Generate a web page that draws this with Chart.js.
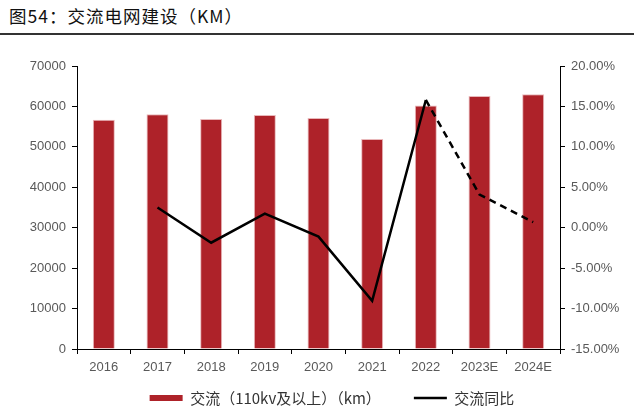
<!DOCTYPE html>
<html>
<head>
<meta charset="utf-8">
<script src="https://cdn.jsdelivr.net/npm/chart.js@4.4.0/dist/chart.umd.min.js"></script>
<style>
  html, body { margin: 0; padding: 0; background: #fff; }
  #wrap { position: relative; width: 634px; height: 409px; overflow: hidden; }
  #title {
    position: absolute; left: 9px; top: 3px;
    font-family: "Noto Sans CJK SC", sans-serif; font-size: 17.5px; color: #111;
    letter-spacing: 1px;
  }
  #rule { position: absolute; left: 0; top: 33px; width: 634px; height: 2px; background: #333; }
  #c { position: absolute; left: 0; top: 0; }
</style>
</head>
<body>
<div id="wrap">
  <div id="title">图54：交流电网建设（KM）</div>
  <div id="rule"></div>
  <canvas id="c" width="634" height="409"></canvas>
</div>
<script>
'use strict';

// données
var annees = ['2016', '2017', '2018', '2019', '2020', '2021', '2022', '2023E', '2024E'];
var longueurKm = [56700, 58050, 56900, 57900, 57150, 51950, 60200, 62600, 63000];
var croissance = [null, 2.5, -1.85, 1.75, -1.1, -9.05, 15.8, 4.1, 0.7];
var nomsSeries = ['交流（110kv及以上）（km）', '交流同比'];
var ticksGauche = [0, 70000, 10000];   // min, max, pas
var ticksDroite = [-15, 20, 5];

var rouge = '#ae2229';
var gris = '#595959';
var policeChiffres = '"Liberation Sans", Arial, sans-serif';
var policeChinois = '"Noto Sans CJK SC", sans-serif';
var ecartLegende = 33;

// remonte la légende : son espacement horizontal est grand, mais elle doit rester basse
var placeLegende = {
  id: 'placeLegende',
  afterLayout: function(chart) {
    var l = chart.legend;
    l.top = 398 - 7.5 - ecartLegende;
    l.bottom = chart.height;
    l.height = l.bottom - l.top;
  }
};

var data = {
  labels: annees,
  datasets: [{
    type: 'bar',
    label: nomsSeries[0],
    data: longueurKm,
    backgroundColor: rouge,
    borderColor: '#e9b8ba',
    borderWidth: 1,
    borderSkipped: 'bottom',
    categoryPercentage: 1,
    barPercentage: 0.41,
    yAxisID: 'y',
    order: 1
  }, {
    type: 'line',
    label: nomsSeries[1],
    data: croissance,
    borderColor: '#000',
    backgroundColor: '#000',
    borderWidth: 2.5,
    pointRadius: 0,
    tension: 0,
    spanGaps: false,
    yAxisID: 'y1',
    order: 0,
    segment: {
      // prévisions en pointillés
      borderDash: function(ctx) { return ctx.p0DataIndex >= 6 ? [7, 5] : undefined; }
    }
  }]
};

var options = {
  responsive: false,
  animation: false,
  layout: { padding: { top: 66, left: 30, right: 0, bottom: 0 } },
  plugins: {
    title: { display: false },
    tooltip: { enabled: false },
    legend: {
      position: 'bottom',
      maxHeight: 30,
      labels: {
        usePointStyle: true,
        pointStyleWidth: 33,
        boxHeight: 6,
        padding: ecartLegende,
        color: '#333',
        font: { family: policeChinois, size: 15 },
        generateLabels: function(chart) {
          return [
            { text: nomsSeries[0], fillStyle: rouge, strokeStyle: rouge, lineWidth: 0,
              pointStyle: 'rect', datasetIndex: 0, hidden: false, fontColor: '#333' },
            { text: nomsSeries[1], fillStyle: '#000', strokeStyle: '#000', lineWidth: 2.5,
              pointStyle: 'line', datasetIndex: 1, hidden: false, fontColor: '#333' }
          ];
        }
      }
    }
  },
  scales: {
    x: {
      offset: true,
      border: { display: true, color: '#000', width: 1 },
      grid: { offset: true, drawOnChartArea: false, drawTicks: true, tickLength: 5, color: '#000' },
      ticks: { color: gris, font: { family: policeChiffres, size: 13 }, padding: 6, maxRotation: 0 },
      afterFit: function(scale) { scale.height = 30; }
    },
    y: {
      position: 'left',
      min: ticksGauche[0],
      max: ticksGauche[1],
      border: { display: true, color: '#000', width: 1 },
      grid: { drawOnChartArea: false, tickLength: 5, color: '#000' },
      ticks: {
        stepSize: ticksGauche[2], color: gris, font: { family: policeChiffres, size: 13 }, padding: 6,
        callback: function(v) { return String(v); }
      },
      afterFit: function(scale) { scale.width = 47; }
    },
    y1: {
      position: 'right',
      min: ticksDroite[0],
      max: ticksDroite[1],
      border: { display: true, color: '#000', width: 1 },
      grid: { drawOnChartArea: false, tickLength: 5, color: '#000' },
      ticks: {
        stepSize: ticksDroite[2], color: gris, font: { family: policeChiffres, size: 13 }, padding: 6,
        callback: function(v) { return v.toFixed(2) + '%'; }
      },
      afterFit: function(scale) { scale.width = 74; }
    }
  }
};

var graphique = new Chart(document.getElementById('c').getContext('2d'), {
  type: 'bar',
  data: data,
  options: options,
  plugins: [placeLegende]
});
console.log(graphique.chartArea);
</script>
</body>
</html>
